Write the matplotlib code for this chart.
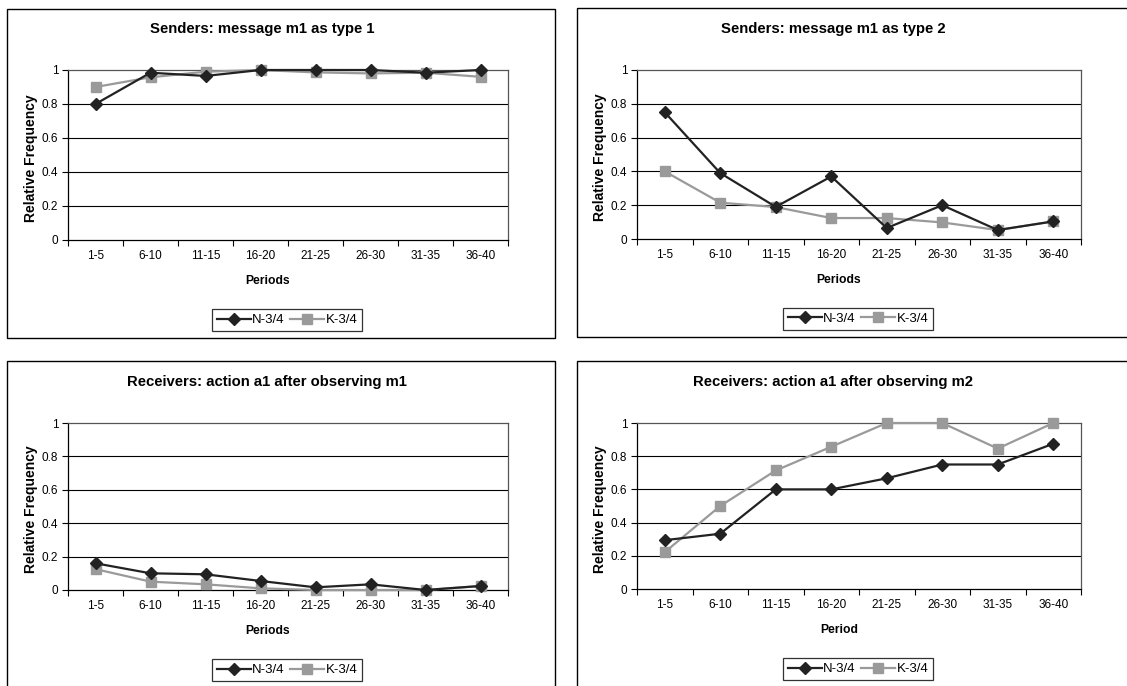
import numpy as np
import matplotlib.pyplot as plt
from matplotlib.patches import Rectangle

plt.rcParams['font.family'] = ['Liberation Sans', 'DejaVu Sans']

periods = ['1-5', '6-10', '11-15', '16-20', '21-25', '26-30', '31-35', '36-40']

# Senders: message m1 as type 1
s1_n = [0.80, 0.984, 0.965, 1.0, 1.0, 1.0, 0.984, 1.0]
s1_k = [0.90, 0.957, 0.99, 1.0, 0.986, 0.98, 0.984, 0.96]

# Senders: message m1 as type 2
s2_n = [0.75, 0.39, 0.19, 0.37, 0.065, 0.20, 0.053, 0.104]
s2_k = [0.40, 0.215, 0.189, 0.124, 0.124, 0.098, 0.053, 0.104]

# Receivers: action a1 after observing m1
r1_n = [0.16, 0.10, 0.094, 0.054, 0.016, 0.034, 0.0, 0.024]
r1_k = [0.125, 0.05, 0.034, 0.01, 0.0, 0.0, 0.0, 0.024]

# Receivers: action a1 after observing m2
r2_n = [0.294, 0.333, 0.60, 0.60, 0.667, 0.75, 0.75, 0.875]
r2_k = [0.222, 0.50, 0.714, 0.857, 1.0, 1.0, 0.846, 1.0]

W, H = 1127, 686
fig = plt.figure(figsize=(W / 100, H / 100), dpi=100)


def fx(px):
    return px / W


def fy(py):
    return 1 - py / H


panels = [
    # title, xlabel, n, k, axes (l, t, r, b), box (l, t, r, b), title x
    ('Senders: message m1 as type 1', 'Periods', s1_n, s1_k,
     (68, 70, 508, 240), (7, 9, 555, 338), 262),
    ('Senders: message m1 as type 2', 'Periods', s2_n, s2_k,
     (637, 70, 1081, 239), (577, 8, 1140, 337), 833),
    ('Receivers: action a1 after observing m1', 'Periods', r1_n, r1_k,
     (68, 423, 508, 590), (7, 361, 555, 700), 267),
    ('Receivers: action a1 after observing m2', 'Period', r2_n, r2_k,
     (637, 423, 1081, 589), (577, 361, 1140, 700), 833),
]

x = np.arange(len(periods))

for title, xlab, n_vals, k_vals, (l, t, r, b), (bl, bt, br, bb), tx in panels:
    fig.add_artist(Rectangle((fx(bl), fy(bb)), fx(br - bl), (bb - bt) / H,
                             transform=fig.transFigure, fill=False,
                             edgecolor='black', linewidth=1.0))

    ax = fig.add_axes([fx(l), fy(b), fx(r - l), (b - t) / H])
    ax.set_facecolor('white')
    for yv in [0.2, 0.4, 0.6, 0.8]:
        ax.axhline(yv, color='black', linewidth=0.8, zorder=1)

    ax.plot(x, n_vals, color='#222222', marker='D', markersize=6,
            linewidth=1.6, label='N-3/4', zorder=4, clip_on=False)
    ax.plot(x, k_vals, color='#9a9a9a', marker='s', markersize=6.5,
            linewidth=1.6, label='K-3/4', zorder=3, clip_on=False)

    ax.set_xlim(-0.5, len(periods) - 0.5)
    ax.set_ylim(0, 1)
    ax.set_yticks([0, 0.2, 0.4, 0.6, 0.8, 1])
    ax.set_yticklabels(['0', '0.2', '0.4', '0.6', '0.8', '1'], fontsize=8.5)
    ax.set_xticks(np.arange(-0.5, len(periods), 1))
    ax.set_xticklabels([])
    ax.set_xticks(x, minor=True)
    ax.set_xticklabels(periods, minor=True, fontsize=8.5)
    ax.tick_params(axis='x', which='major', direction='out', length=4, width=0.8)
    ax.tick_params(axis='x', which='minor', length=0, pad=7)
    ax.tick_params(axis='y', direction='out', length=4, width=0.8, pad=3)

    for side in ['left', 'bottom']:
        ax.spines[side].set_color('black')
        ax.spines[side].set_linewidth(0.9)
    for side in ['top', 'right']:
        ax.spines[side].set_color('#555555')
        ax.spines[side].set_linewidth(0.9)

    fig.text(fx(tx), fy(t - 41), title, ha='center', va='center',
             fontsize=10.7, fontweight='bold')
    cx = (l + r) / 2
    fig.text(fx(cx - 20), fy(b + 41), xlab, ha='center', va='center',
             fontsize=8.7, fontweight='bold')
    fig.text(fx(l - 37), fy((t + b) / 2 + 3), 'Relative Frequency', ha='center',
             va='center', rotation=90, fontsize=10, fontweight='bold')

    leg = ax.legend(loc='center', bbox_to_anchor=(fx(cx - 1), fy(b + 80)),
                    bbox_transform=fig.transFigure, ncol=2, fontsize=9.5,
                    frameon=True, fancybox=False, handlelength=2.6,
                    handletextpad=0.1, columnspacing=0.4, borderpad=0.35,
                    borderaxespad=0)
    leg.get_frame().set_edgecolor('black')
    leg.get_frame().set_linewidth(0.9)

fig.savefig('out.png', dpi=100, facecolor='white')
